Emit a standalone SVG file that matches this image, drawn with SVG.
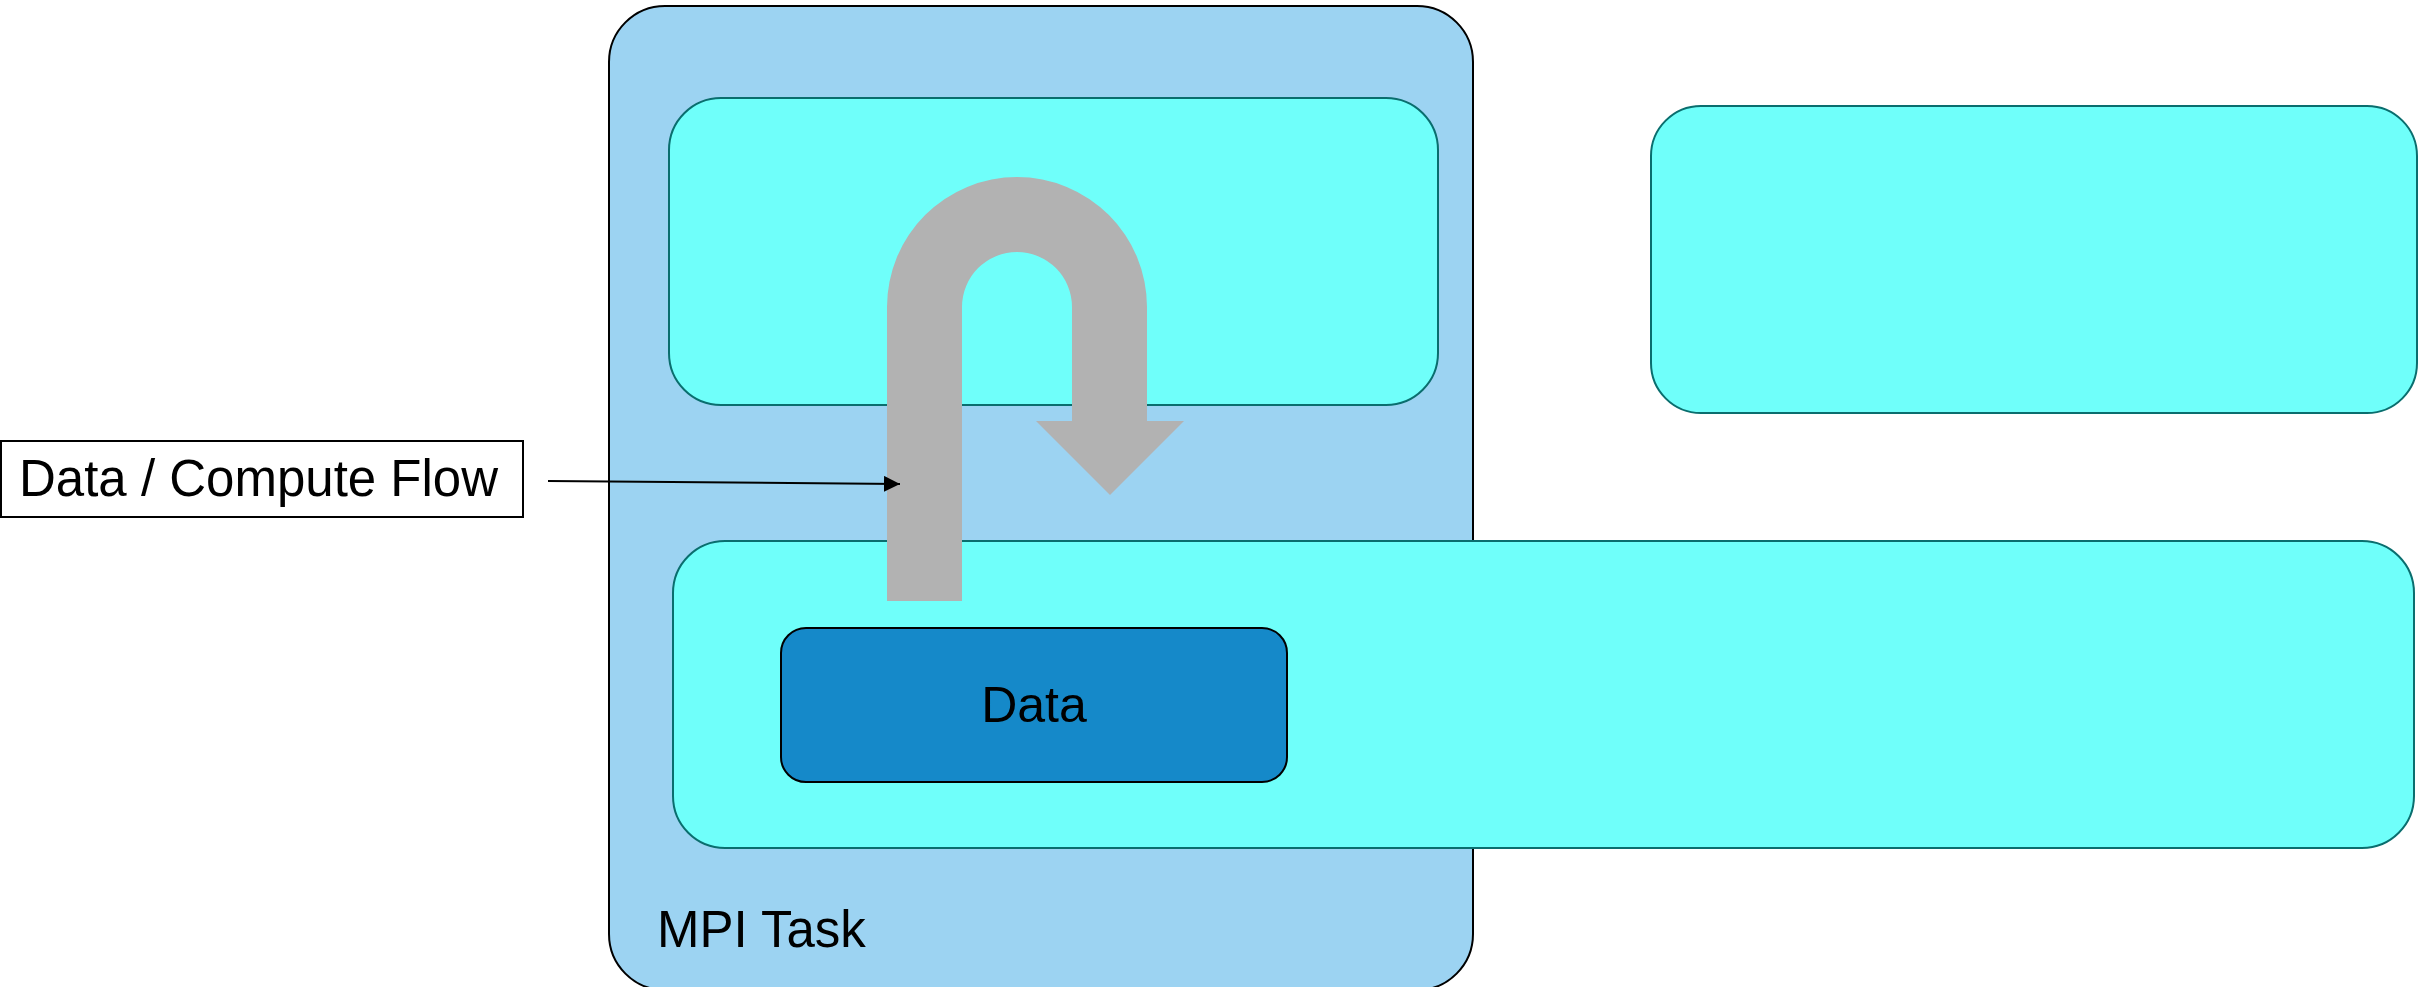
<svg xmlns="http://www.w3.org/2000/svg" width="2419" height="987" viewBox="0 0 2419 987">
<style>
.cyan{fill:#6FFFFA;stroke:#0A6E6E;stroke-width:2}
.txt{font-family:"Liberation Sans",Arial,sans-serif;font-size:50px;fill:#000}
</style>
<defs>
<marker id="ah" markerWidth="16" markerHeight="16" refX="16" refY="8" orient="auto" markerUnits="userSpaceOnUse">
<path d="M0,0 L16,8 L0,16 Z" fill="#000"/>
</marker>
</defs>
<rect x="0" y="0" width="2419" height="987" fill="#fff"/>
<g id="mpi-task">
<rect x="609" y="6" width="864" height="984" rx="56" ry="56" fill="#9CD3F2" stroke="#000" stroke-width="2"/>
<text class="txt" x="657" y="947" style="font-size:51px">MPI Task</text>
</g>
<g id="top-box">
<rect class="cyan" x="669" y="98" width="769" height="307" rx="52" ry="52"/>
</g>
<g id="right-box">
<rect class="cyan" x="1651" y="106" width="766" height="307" rx="50" ry="50"/>
</g>
<g id="bottom-box">
<rect class="cyan" x="673" y="541" width="1741" height="307" rx="52" ry="52"/>
</g>
<g id="data">
<rect x="781" y="628" width="506" height="154" rx="25" ry="25" fill="#1589C9" stroke="#000" stroke-width="2"/>
<text class="txt" x="1034" y="722" text-anchor="middle">Data</text>
</g>
<g id="flow-arrow">
<path d="M887,601 L887,307 A130,130 0 0 1 1147,307 L1147,421 L1184,421 L1110,495 L1036,421 L1072,421 L1072,307 A55,55 0 0 0 962,307 L962,601 Z" fill="#B2B2B2"/>
</g>
<g id="legend">
<rect x="1" y="441" width="522" height="76" fill="#fff" stroke="#000" stroke-width="2"/>
<text class="txt" x="19" y="496" style="font-size:51px">Data / Compute Flow</text>
</g>
<g id="connectors">
<line x1="548" y1="481" x2="900" y2="484" stroke="#000" stroke-width="2" marker-end="url(#ah)"/>
</g>
</svg>
